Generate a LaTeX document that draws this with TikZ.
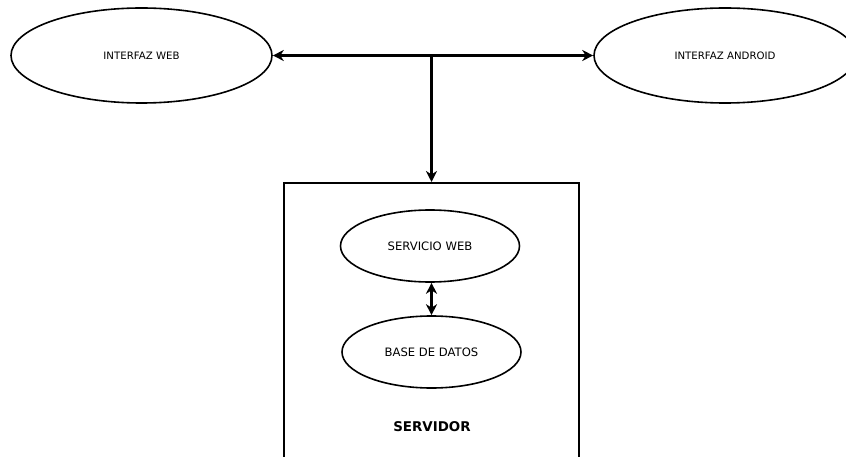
\documentclass[tikz,border=0pt]{standalone}
\usepackage{fontspec}
\setmainfont{DejaVu Sans}
\usetikzlibrary{shapes.geometric,arrows.meta}
\begin{document}
\begin{tikzpicture}[x=1pt,y=-1pt,
  oval/.style={draw,ellipse,line width=1.6pt,inner sep=0pt,minimum width=#1},
  link/.style={line width=2.4pt,{Stealth[length=11pt,width=11pt,inset=3.5pt]}-{Stealth[length=11pt,width=11pt,inset=3.5pt]}},
  down/.style={line width=2.4pt,-{Stealth[length=11pt,width=11pt,inset=3.5pt]}},
  outertxt/.style={font=\fontsize{10.2}{12}\selectfont},
  innertxt/.style={font=\fontsize{11.6}{13}\selectfont}]
\useasboundingbox (0,0) rectangle (846,457);
\node[oval=261pt,minimum height=95pt,outertxt] (web) at (141.5,55.5) {INTERFAZ WEB};
\node[oval=262pt,minimum height=95pt,outertxt] (android) at (725,55.5) {INTERFAZ ANDROID};
\node[draw,rectangle,line width=1.6pt,minimum width=295pt,minimum height=300pt,anchor=north,inner sep=0pt] (servidor) at (431.5,182) {};
\node[oval=179pt,minimum height=72pt,innertxt] (ws) at (430,246) {SERVICIO WEB};
\node[oval=179pt,minimum height=72pt,innertxt] (db) at (431.5,352) {BASE DE DATOS};
\node[font=\fontsize{13.4}{15}\selectfont\bfseries] (lbl) at (432,427) {SERVIDOR};
\coordinate (junc) at (431.5,55.5);
\draw[link] (web.east) -- (android.west);
\draw[down] (junc) -- (servidor.north);
\draw[link] (ws.south -| servidor.north) -- (db.north -| servidor.north);
\end{tikzpicture}
\end{document}
